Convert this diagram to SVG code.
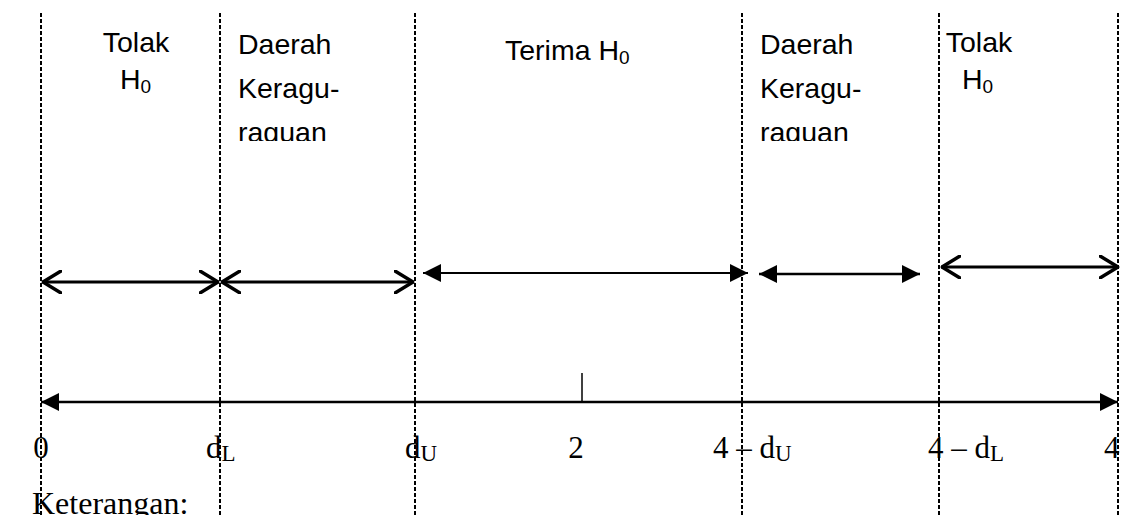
<svg xmlns="http://www.w3.org/2000/svg" width="1127" height="515" viewBox="0 0 1127 515">
  <style>
    .guide { stroke: #000; stroke-width: 2; stroke-dasharray: 4 2; fill: none; }
    .lbl { font-family: "Liberation Sans", Arial, sans-serif; font-size: 28.5px; fill: #000; }
    .sub { font-size: 19px; }
    .val { font-family: "Liberation Serif", "Times New Roman", serif; font-size: 31px; fill: #000; }
    .vsub { font-size: 23px; }
    .thick { stroke: #000; stroke-width: 3; fill: none; stroke-linecap: round; stroke-linejoin: round; }
    .thin { stroke: #000; stroke-width: 2.2; fill: none; }
    .axis { stroke: #000; stroke-width: 2.5; fill: none; }
  </style>
  <defs>
    <marker id="open" viewBox="0 0 20 24" refX="19" refY="12" markerWidth="20" markerHeight="24" markerUnits="userSpaceOnUse" orient="auto-start-reverse">
      <path d="M1,1 L19,12 L1,23" fill="none" stroke="#000" stroke-width="3.5" stroke-linecap="round" stroke-linejoin="round"/>
    </marker>
    <marker id="solid" viewBox="0 0 18 18" refX="18" refY="9" markerWidth="18" markerHeight="18" markerUnits="userSpaceOnUse" orient="auto-start-reverse">
      <path d="M0,0 L18,9 L0,18 Z" fill="#000"/>
    </marker>
    <clipPath id="boxL"><rect x="225" y="0" width="185" height="141"/></clipPath>
    <clipPath id="boxR"><rect x="748" y="0" width="185" height="141"/></clipPath>
  </defs>

  <!-- vertical region boundaries -->
  <g id="guides">
    <line class="guide" x1="41" y1="13" x2="41" y2="515"/>
    <line class="guide" x1="220" y1="13" x2="220" y2="515"/>
    <line class="guide" x1="415" y1="13" x2="415" y2="515"/>
    <line class="guide" x1="742" y1="13" x2="742" y2="515"/>
    <line class="guide" x1="939" y1="13" x2="939" y2="515"/>
    <line class="guide" x1="1118" y1="13" x2="1118" y2="515"/>
  </g>

  <!-- region captions -->
  <g id="tolak-left">
    <text class="lbl" x="136" y="52" text-anchor="middle">Tolak</text>
    <text class="lbl" x="120" y="89">H<tspan class="sub" dy="4">0</tspan></text>
  </g>
  <g id="ragu-left" clip-path="url(#boxL)">
    <text class="lbl" x="238" y="54">Daerah</text>
    <text class="lbl" x="238" y="98">Keragu-</text>
    <text class="lbl" x="238" y="142">raguan</text>
  </g>
  <g id="terima">
    <text class="lbl" x="505" y="60">Terima H<tspan class="sub" dy="4">0</tspan></text>
  </g>
  <g id="ragu-right" clip-path="url(#boxR)">
    <text class="lbl" x="760" y="54">Daerah</text>
    <text class="lbl" x="760" y="98">Keragu-</text>
    <text class="lbl" x="760" y="142">raguan</text>
  </g>
  <g id="tolak-right">
    <text class="lbl" x="979" y="52" text-anchor="middle">Tolak</text>
    <text class="lbl" x="962" y="89">H<tspan class="sub" dy="4">0</tspan></text>
  </g>

  <!-- region span arrows and the axis -->
  <g id="connectors">
    <line class="thick" x1="43" y1="282" x2="218" y2="282" marker-start="url(#open)" marker-end="url(#open)"/>
    <line class="thick" x1="222" y1="282" x2="413" y2="282" marker-start="url(#open)" marker-end="url(#open)"/>
    <line class="thin" x1="423" y1="273" x2="748" y2="273" marker-start="url(#solid)" marker-end="url(#solid)"/>
    <line class="axis" x1="759" y1="274" x2="920" y2="274" marker-start="url(#solid)" marker-end="url(#solid)"/>
    <line class="thick" x1="942" y1="267" x2="1118" y2="267" marker-start="url(#open)" marker-end="url(#open)"/>
    <line class="axis" x1="41" y1="402" x2="1118" y2="402" marker-start="url(#solid)" marker-end="url(#solid)"/>
    <line stroke="#000" stroke-width="1.5" x1="582" y1="373" x2="582" y2="402"/>
  </g>

  <!-- axis values -->
  <g id="values">
    <text class="val" x="41" y="458" text-anchor="middle">0</text>
    <text class="val" x="206" y="458">d<tspan class="vsub" dy="3">L</tspan></text>
    <text class="val" x="405" y="458">d<tspan class="vsub" dy="3">U</tspan></text>
    <text class="val" x="576" y="458" text-anchor="middle">2</text>
    <text class="val" x="713" y="458">4 – d<tspan class="vsub" dy="3">U</tspan></text>
    <text class="val" x="928" y="458">4 – d<tspan class="vsub" dy="3">L</tspan></text>
    <text class="val" x="1104" y="458">4</text>
  </g>

  <g id="note">
    <text class="val" x="32" y="514" style="font-size:32px">Keterangan:</text>
  </g>
</svg>
